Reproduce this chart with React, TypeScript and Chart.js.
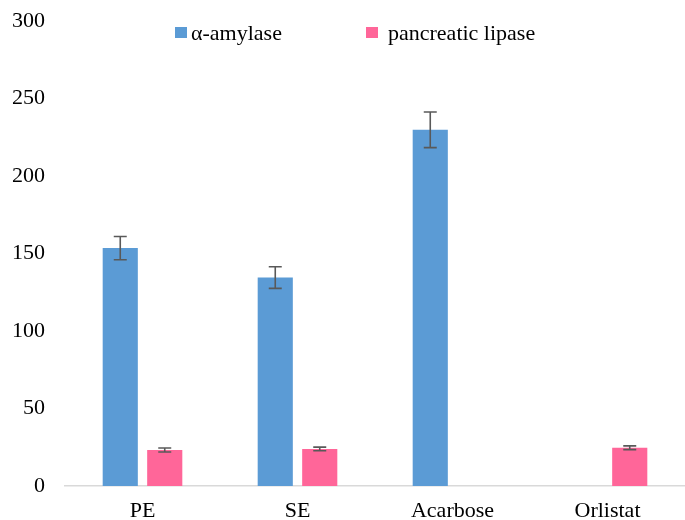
import React, { useEffect, useRef } from "react";
import { Chart, registerables } from "chart.js";

Chart.register(...registerables);

const categories = ["PE", "SE", "Acarbose", "Orlistat"];
const amylaseValues = [153.5, 134.5, 229.8, null];
const amylaseErrors = [7.5, 7, 11.5, null];
const lipaseValues = [23.2, 23.9, 24.7];
const lipaseErrors = [1.3, 1.2, 1.2];
const lipaseData = [lipaseValues[0], lipaseValues[1], null, lipaseValues[2]];
const lipaseErr = [lipaseErrors[0], lipaseErrors[1], null, lipaseErrors[2]];
const yTicks = [0, 50, 100, 150, 200, 250, 300];

const FONT = '"Liberation Serif", "Times New Roman", "DejaVu Serif", serif';
const FONT_SIZE = 22;
const BLUE = "#5B9BD5";
const PINK = "#FF6699";

const errorBarPlugin = {
  id: "errorBars",
  afterDatasetsDraw(chart: any) {
    const ctx = chart.ctx;
    const y = chart.scales.y;
    const errs = [amylaseErrors, lipaseErr];
    ctx.save();
    ctx.strokeStyle = "#595959";
    ctx.lineWidth = 1.6;
    chart.data.datasets.forEach((ds: any, di: number) => {
      const meta = chart.getDatasetMeta(di);
      meta.data.forEach((bar: any, i: number) => {
        const v = ds.data[i];
        const e = errs[di][i];
        if (v == null || e == null) return;
        const x = bar.x;
        const top = y.getPixelForValue(v + e);
        const bot = y.getPixelForValue(v - e);
        const cap = 6.5;
        ctx.beginPath();
        ctx.moveTo(x, top);
        ctx.lineTo(x, bot);
        ctx.moveTo(x - cap, top);
        ctx.lineTo(x + cap, top);
        ctx.moveTo(x - cap, bot);
        ctx.lineTo(x + cap, bot);
        ctx.stroke();
      });
    });
    ctx.restore();
  },
};

const legendPlugin = {
  id: "customLegend",
  afterDraw(chart: any) {
    const ctx = chart.ctx;
    ctx.save();
    ctx.font = `${FONT_SIZE}px ${FONT}`;
    ctx.textBaseline = "alphabetic";
    ctx.fillStyle = BLUE;
    ctx.fillRect(175, 27, 12, 11);
    ctx.fillStyle = "#000";
    ctx.fillText("α-amylase", 191, 40);
    ctx.fillStyle = PINK;
    ctx.fillRect(366, 27, 12, 11);
    ctx.fillStyle = "#000";
    ctx.fillText("pancreatic lipase", 388, 40);
    ctx.restore();
  },
};

export default function App() {
  const ref = useRef<HTMLCanvasElement>(null);
  useEffect(() => {
    if (!ref.current) return;
    const chart = new Chart(ref.current, {
      type: "bar",
      data: {
        labels: categories,
        datasets: [
          {
            label: "α-amylase",
            data: amylaseValues as any,
            backgroundColor: BLUE,
            categoryPercentage: 0.574,
            barPercentage: 0.79,
          },
          {
            label: "pancreatic lipase",
            data: lipaseData as any,
            backgroundColor: PINK,
            categoryPercentage: 0.574,
            barPercentage: 0.79,
          },
        ],
      },
      options: {
        animation: false,
        responsive: false,
        maintainAspectRatio: false,
        layout: { padding: { top: 21, right: 0, left: 0, bottom: 0 } },
        plugins: {
          legend: { display: false },
          tooltip: { enabled: false },
        },
        scales: {
          x: {
            grid: { display: false, drawTicks: false },
            border: { display: true, color: "#D9D9D9", width: 1.5 },
            afterFit: (scale: any) => {
              scale.height = 34;
            },
            ticks: {
              color: "#000",
              font: { family: FONT, size: FONT_SIZE },
              padding: 12,
            },
          },
          y: {
            min: 0,
            max: 300,
            afterBuildTicks: (scale: any) => {
              scale.ticks = yTicks.map((v) => ({ value: v }));
            },
            afterFit: (scale: any) => {
              scale.width = 65;
              scale.paddingTop = 0;
              scale.paddingBottom = 0;
            },
            grid: { display: false, drawTicks: false },
            border: { display: false },
            ticks: {
              color: "#000",
              font: { family: FONT, size: FONT_SIZE },
              padding: 20,
            },
          },
        },
      },
      plugins: [errorBarPlugin, legendPlugin],
    });
    return () => chart.destroy();
  }, []);
  return (
    <div style={{ position: "fixed", left: 0, top: 0, width: 685, height: 520, background: "#fff" }}>
      <canvas ref={ref} width={685} height={520} style={{ width: 685, height: 520 }} />
    </div>
  );
}
